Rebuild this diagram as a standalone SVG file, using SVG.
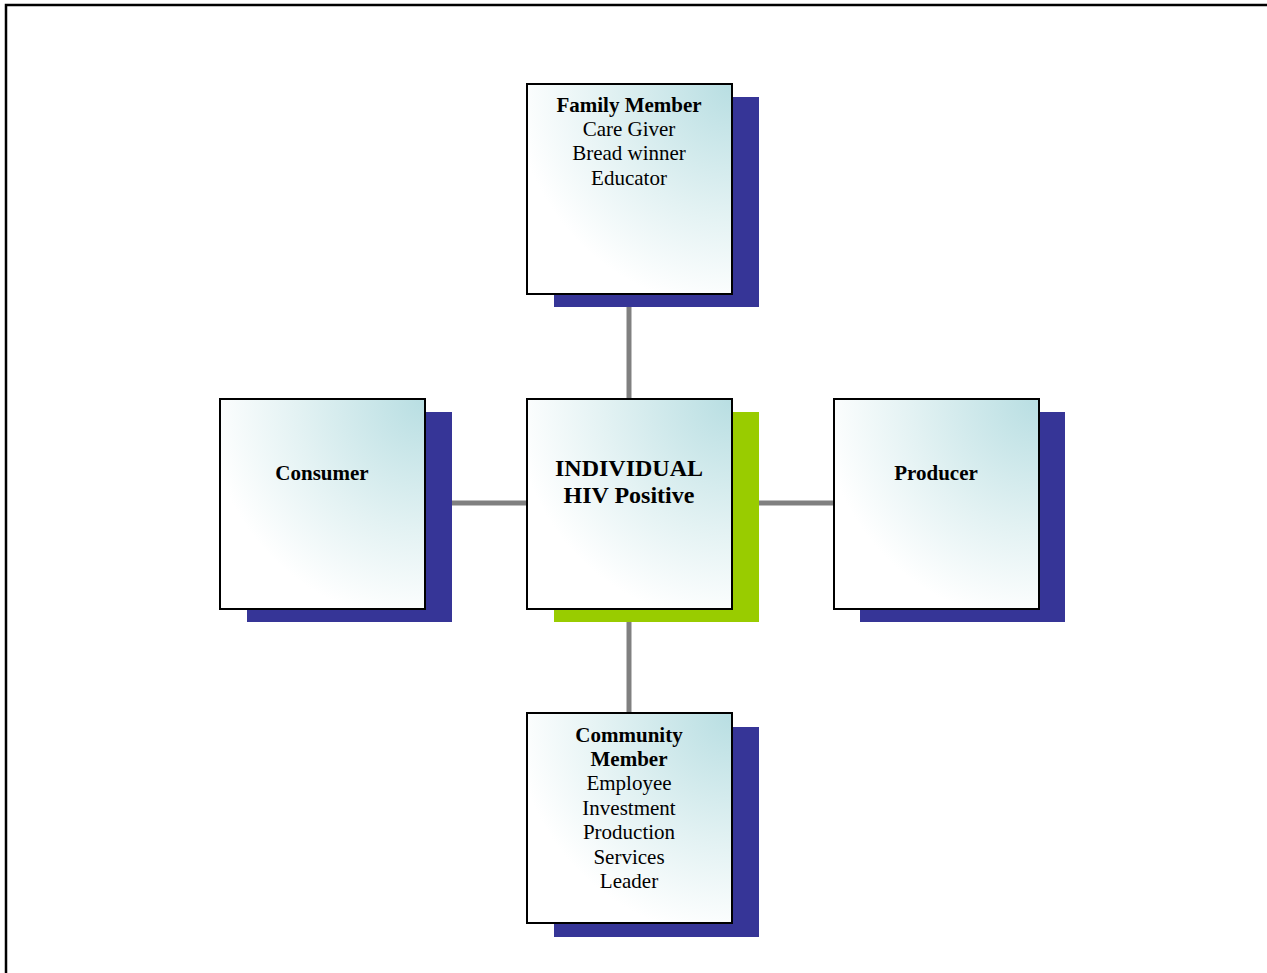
<svg xmlns="http://www.w3.org/2000/svg" width="1267" height="973" viewBox="0 0 1267 973">
<style>
.box{stroke:#000;stroke-width:2;fill:url(#g)}
.sh{fill:#363597}
.shg{fill:#99cc00}
.conn line{stroke:#808080;stroke-width:5}
text{font-family:"Liberation Serif","Times New Roman",serif;font-size:21px;text-anchor:middle;fill:#000}
.b{font-weight:bold}
.big{font-size:24px;font-weight:bold}
</style>
<defs>
<radialGradient id="g" cx="1" cy="0" r="1.25" fx="1" fy="0">
<stop offset="0" stop-color="#b8dee2"/>
<stop offset="0.5" stop-color="#e3f2f3"/>
<stop offset="0.85" stop-color="#ffffff"/>
<stop offset="1" stop-color="#ffffff"/>
</radialGradient>
</defs>
<rect x="0" y="0" width="1267" height="973" fill="#fff"/>
<path d="M6 973 V5 H1267" fill="none" stroke="#000" stroke-width="2.5"/>
<g class="conn" id="connectors">
<line x1="629" y1="294" x2="629" y2="399"/>
<line x1="629" y1="609" x2="629" y2="713"/>
<line x1="452" y1="503" x2="527" y2="503"/>
<line x1="759" y1="503" x2="834" y2="503"/>
</g>
<g id="family">
<rect class="sh" x="554" y="97" width="205" height="210"/>
<rect class="box" x="527" y="84" width="205" height="210"/>
<text x="629" y="112" class="b">Family Member</text>
<text x="629" y="136">Care Giver</text>
<text x="629" y="160">Bread winner</text>
<text x="629" y="185">Educator</text>
</g>
<g id="consumer">
<rect class="sh" x="247" y="412" width="205" height="210"/>
<rect class="box" x="220" y="399" width="205" height="210"/>
<text x="322" y="480" class="b">Consumer</text>
</g>
<g id="individual">
<rect class="shg" x="554" y="412" width="205" height="210"/>
<rect class="box" x="527" y="399" width="205" height="210"/>
<text x="629" y="476" class="big">INDIVIDUAL</text>
<text x="629" y="503" class="big">HIV Positive</text>
</g>
<g id="producer">
<rect class="sh" x="860" y="412" width="205" height="210"/>
<rect class="box" x="834" y="399" width="205" height="210"/>
<text x="936" y="480" class="b">Producer</text>
</g>
<g id="community">
<rect class="sh" x="554" y="727" width="205" height="210"/>
<rect class="box" x="527" y="713" width="205" height="210"/>
<text x="629" y="742" class="b">Community</text>
<text x="629" y="766" class="b">Member</text>
<text x="629" y="790">Employee</text>
<text x="629" y="815">Investment</text>
<text x="629" y="839">Production</text>
<text x="629" y="864">Services</text>
<text x="629" y="888">Leader</text>
</g>
</svg>
